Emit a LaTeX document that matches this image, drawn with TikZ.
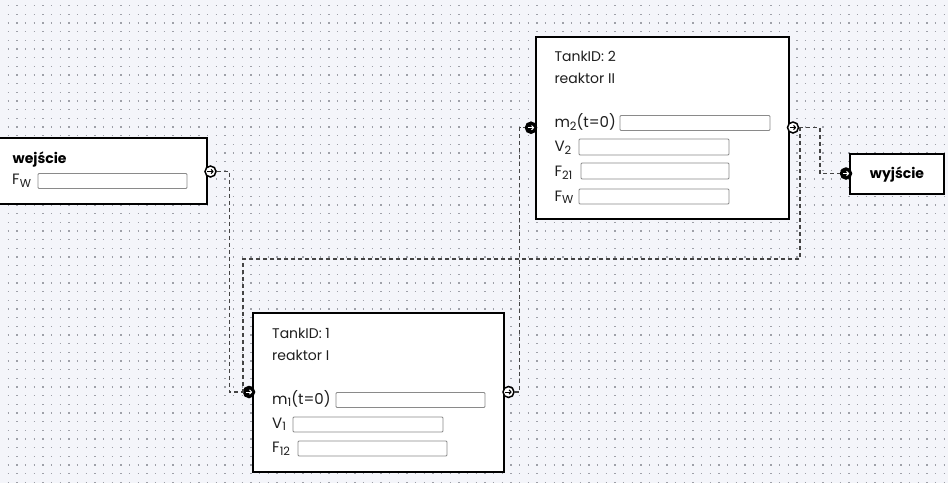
\documentclass[tikz,border=0pt]{standalone}
\usepackage{fontspec}
\setmainfont{Poppins}
\usetikzlibrary{arrows.meta}
\definecolor{bgc}{HTML}{F4F5FA}
\definecolor{dotc}{HTML}{9EA0A8}
\definecolor{txtc}{HTML}{1E1E1E}
\definecolor{fldc}{HTML}{8A8A8A}
\definecolor{connc}{HTML}{444444}
\newcommand\sbsc[1]{\raisebox{-2.6pt}{\fontsize{11.5}{11.5}\selectfont #1}}
\begin{document}
\begin{tikzpicture}[x=1pt,y=-1pt,
  blk/.style={rectangle, draw=black, line width=2pt, fill=white, inner sep=0pt},
  fld/.style={rectangle, draw=fldc, line width=0.9pt, fill=white, rounded corners=1pt, inner sep=0pt, minimum width=149pt, minimum height=15pt},
  lbl/.style={anchor=base west, inner sep=0pt, text=txtc, font=\fontsize{15}{15}\selectfont},
  hdr/.style={anchor=base west, inner sep=0pt, text=txtc, font=\fontsize{14}{14}\selectfont},
  ttl/.style={anchor=base west, inner sep=0pt, text=black, font=\fontsize{14}{14}\selectfont\bfseries},
  portbase/.style={circle, draw=black, line width=1.5pt, minimum size=11pt, inner sep=0pt},
  portarrow/.style={path picture={\draw[#1, line width=1pt, -{Straight Barb[length=2pt,width=4.4pt]}] ([xshift=-3.2pt]path picture bounding box.center) -- ([xshift=3.2pt]path picture bounding box.center);}},
  portW/.style={portbase, fill=white, portarrow=black},
  portB/.style={portbase, fill=black, portarrow=white},
  conn/.style={draw=connc, line width=1.25pt, dash pattern=on 4pt off 3pt}
]
\useasboundingbox (0,0) rectangle (948,483);
\fill[bgc] (0,0) rectangle (948,483);
\foreach \r in {0,...,55}
  \draw[dotc, line width=1.5pt, dash pattern=on 1.5pt off 7.167pt] (7.58,{5.67+8.667*\r}) -- (948,{5.67+8.667*\r});

% blocks
\node[blk, minimum width=211.5pt, minimum height=66pt] (wej) at (100.75,170.5) {};
\node[blk, minimum width=251pt, minimum height=158.5pt] (r1) at (378.5,392.25) {};
\node[blk, minimum width=253pt, minimum height=182pt] (r2) at (662,127.5) {};
\node[blk, minimum width=94pt, minimum height=40pt] (wyj) at (897,173.5) {};

% wejscie
\node[ttl] (wejt) at (12.5,163.3) {wejście};
\node[lbl] (wejf) at (12,184.5) {F\sbsc{W}};
\node[fld] (wejff) at (112.5,181) {};

% reaktor I
\node[hdr] (r1id) at (272,338.3) {TankID: 1};
\node[hdr] (r1n) at (272,360) {reaktor I};
\node[lbl] (r1m) at (272,404.3) {m\sbsc{1}(t=0)};
\node[fld] (r1mf) at (410.5,400) {};
\node[lbl] (r1v) at (272,428.3) {V\sbsc{1}};
\node[fld, minimum width=150pt] (r1vf) at (368,424.5) {};
\node[lbl] (r1f) at (272,452.7) {F\sbsc{12}};
\node[fld] (r1ff) at (372.5,448.5) {};

% reaktor II
\node[hdr] (r2id) at (554.3,61.7) {TankID: 2};
\node[hdr] (r2n) at (554.3,83.3) {reaktor II};
\node[lbl] (r2m) at (554.3,127.7) {m\sbsc{2}(t=0)};
\node[fld, minimum width=150pt] (r2mf) at (695,123) {};
\node[lbl] (r2v) at (554.3,151.7) {V\sbsc{2}};
\node[fld, minimum width=150pt, minimum height=16pt] (r2vf) at (654,147) {};
\node[lbl] (r2f) at (554.3,176.5) {F\sbsc{21}};
\node[fld, minimum width=148pt, minimum height=16pt] (r2ff) at (655,171) {};
\node[lbl] (r2w) at (554.3,201) {F\sbsc{W}};
\node[fld, minimum width=150pt] (r2wf) at (654,196.5) {};

% wyjscie
\node[ttl, anchor=base] (wyjt) at (897,178.3) {wyjście};

% ports
\node[portW] (win) at (210.5,171.5) {};
\node[portB] (r1in) at (249,392) {};
\node[portW] (r1out) at (508.5,392) {};
\node[portB] (r2in) at (531,127.7) {};
\node[portW] (r2out) at (793,127.5) {};
\node[portB] (wout) at (846,173.5) {};

% connectors
\coordinate (fb) at (243,259);
\draw[conn] (win.east) -- (229.5,171.5) |- (r1in.west);
\draw[conn] (r1out.east) -- (519.5,392) |- (r2in.west);
\draw[conn] (r2out.east) -- (800,127.5) |- (fb) |- (r1in.west);
\draw[conn] (r2out.east) -- (820,127.5) |- (wout.west);
\end{tikzpicture}
\end{document}
